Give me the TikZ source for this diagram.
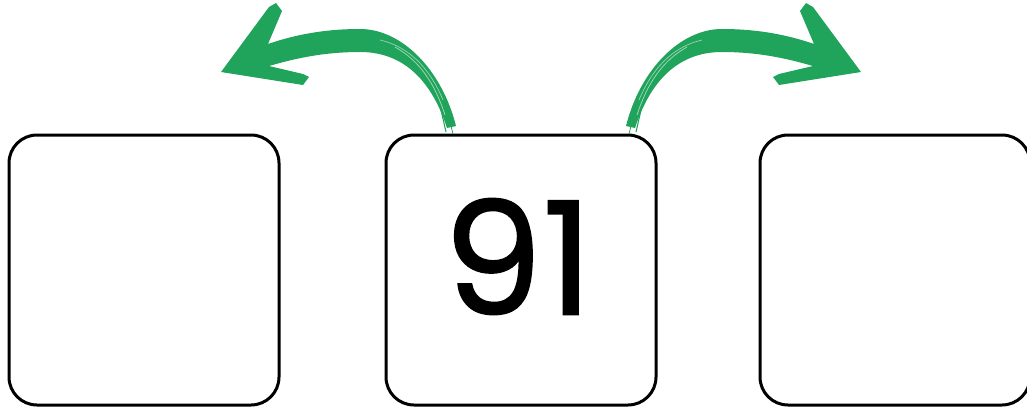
\documentclass[tikz,border=0pt]{standalone}
\usepackage{fontspec}
\newfontfamily\numfont[FakeBold=1.1]{Poppins}
\definecolor{brushgreen}{RGB}{32,163,90}
\tikzset{
  keybox/.style={draw=black, line width=2.25pt, rounded corners=21pt,
    minimum width=202.5pt, minimum height=202.5pt, inner sep=0pt, fill=white},
  brusharrow/.pic={
    \fill[brushgreen]
      (268,44) .. controls (300,33) and (330,29) .. (360,29)
      .. controls (402,29) and (442,70) .. (456,126)
      -- (447,128)
      .. controls (430,76) and (400,52) .. (360,52)
      .. controls (320,52) and (290,60) .. (269,66)
      -- (303,74) -- (309,77) -- (303,85) -- (221,72)
      -- (269,7) -- (276,3) -- (282,11) -- cycle;
    \draw[brushgreen, line width=0.8pt] (441,110) -- (446,132);
    \draw[brushgreen, line width=0.6pt] (449,118) -- (453,134);
    \draw[brushgreen!45, line width=0.6pt] (395,47) .. controls (420,61) and (435,84) .. (445,115);
    \draw[brushgreen!45, line width=0.5pt] (380,40) .. controls (410,47) and (430,69) .. (443,100);
  }
}
\begin{document}
\begin{tikzpicture}[x=0.75pt, y=-0.75pt]
\useasboundingbox (0,0) rectangle (1027,414);
\node[keybox] (left) at (144,270) {};
\node[keybox] (mid) at (521,270) {};
\node[keybox] (right) at (895,270) {};
\node[font=\numfont\fontsize{118}{118}\selectfont, inner sep=0pt] (num) at (518,256.5) {91};
\pic at (0,0) {brusharrow};
\pic[xscale=-1] at (1082,0) {brusharrow};
\end{tikzpicture}
\end{document}
